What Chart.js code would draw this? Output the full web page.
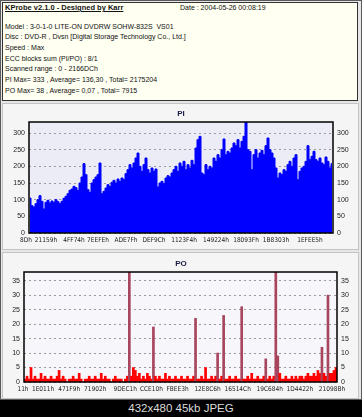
<!DOCTYPE html>
<html>
<head>
<meta charset="utf-8">
<script src="https://cdn.jsdelivr.net/npm/chart.js@4.4.0/dist/chart.umd.min.js"></script>
<style>
html, body { margin: 0; padding: 0; background: #000; width: 362px; height: 417px; overflow: hidden; }
#frame { position: absolute; left: 0; top: 0; width: 362px; height: 400px; box-sizing: border-box;
         border: 1px solid #5a5a5a; background: #e6e6e6; }
#info { position: absolute; left: 2px; top: 2px; width: 356px; height: 99px; box-sizing: border-box;
        border: 1px solid #333; background: #fffff2; font-family: "Liberation Sans", Arial, sans-serif;
        font-size: 7px; color: #111; padding-left: 2px; }
#info .ln { line-height: 10.7px; height: 10.7px; white-space: nowrap; }
#info .head { font-weight: bold; text-decoration: underline; font-size: 7.5px; }
#info .date { position: absolute; left: 177px; top: 0; }
.panel { position: absolute; left: 2px; width: 357px; box-sizing: border-box; border: 1px solid #c4c4c4; background: #f5f5f5; }
.cv { position: absolute; left: 0; }
#caption { position: absolute; left: 0; top: 400px; width: 362px; height: 17px; line-height: 17px; text-align: center;
           color: #dcdcdc; font-family: "Liberation Sans", Arial, sans-serif; font-size: 11.5px; }
</style>
</head>
<body>
<div id="frame"></div>
<div id="info">
  <div class="ln"><span class="head">KProbe v2.1.0 - Designed by Karr</span><span class="date">Date : 2004-05-26 00:08:19</span></div>
  <div class="ln" style="margin-top:8px">Model : 3-0-1-0 LITE-ON DVDRW SOHW-832S&nbsp; VS01</div>
  <div class="ln">Disc : DVD-R , Dvsn [Digital Storage Technology Co., Ltd.]</div>
  <div class="ln">Speed : Max</div>
  <div class="ln">ECC blocks sum (PI/PO) : 8/1</div>
  <div class="ln">Scanned range : 0 - 2166DCh</div>
  <div class="ln">PI Max= 333 , Average= 136,30 , Total= 2175204</div>
  <div class="ln">PO Max= 38 , Average= 0,07 , Total= 7915</div>
</div>
<div class="panel" style="top:103px;height:147px"></div>
<div class="panel" style="top:252px;height:147px"></div>
<canvas id="piChart" class="cv" width="362" height="147" style="top:103px"></canvas>
<canvas id="poChart" class="cv" width="362" height="146" style="top:253px"></canvas>
<div id="caption">432x480 45kb JPEG</div>

<script>
// --- PI (один отсчёт на ~2 px) ---
const piValues = [
  105, 82, 78, 88, 100, 112, 95, 72, 92, 98, 90, 96, 92, 100, 94, 88, 95, 104, 110, 118,
  128, 132, 140, 136, 128, 150, 168, 208, 175, 130, 122, 150, 160, 168, 175, 210, 118, 125, 135, 145,
  140, 152, 158, 150, 162, 155, 165, 160, 178, 190, 205, 195, 210, 225, 240, 200, 185, 205, 225, 190,
  180, 195, 185, 192, 138, 150, 155, 148, 165, 172, 168, 180, 190, 200, 185, 210, 200, 215, 190, 205,
  195, 218, 205, 255, 280, 290, 180, 175, 205, 190, 200, 195, 225, 215, 235, 225, 250, 282, 235, 245,
  240, 255, 270, 262, 280, 255, 275, 290, 333, 250, 245, 190, 235, 250, 225, 240, 248, 235, 262, 285,
  250, 240, 225, 195, 165, 180, 175, 190, 185, 205, 215, 200, 225, 235, 160, 185, 195, 200, 215, 262,
  220, 230, 245, 220, 215, 225, 210, 205, 228, 215, 195, 208
];
const piTickLabels = ['8Dh', '21159h', '4FF74h', '7EEFEh', 'ADE7Fh', 'DEF9Ch', '1123F4h', '149224h', '18093Fh', '1B8303h', '1EFEE5h'];
const piTickSamples = [-2, 8, 22, 34, 48, 62, 77, 93, 108, 123, 140];

// --- PO ---
const poValues = [
  1, 2, 1, 5, 1, 2, 1, 1, 3, 1, 2, 1, 1, 2, 1, 1, 2, 4, 1, 2,
  1, 0, 1, 1, 2, 1, 1, 3, 1, 0, 1, 1, 2, 1, 1, 2, 1, 1, 3, 1,
  2, 1, 1, 0, 1, 2, 1, 1, 1, 0, 1, 2, 38, 2, 5, 4, 2, 3, 1, 2,
  1, 3, 2, 1, 19, 2, 1, 2, 1, 1, 3, 1, 2, 1, 1, 2, 1, 1, 2, 1,
  1, 2, 1, 1, 2, 22, 1, 1, 2, 1, 5, 1, 1, 2, 1, 2, 10, 1, 2, 23,
  1, 1, 2, 1, 1, 2, 1, 1, 26, 1, 1, 2, 1, 3, 1, 1, 2, 1, 1, 2,
  8, 1, 2, 1, 2, 38, 9, 3, 1, 1, 2, 1, 1, 2, 1, 2, 1, 2, 2, 1,
  2, 3, 2, 2, 3, 2, 4, 3, 12, 3, 2, 30, 3, 3, 4, 5
];
const poTickLabels = ['11h', '1E011h', '471F9h', '71902h', '9DEC1h', 'CCE10h', 'FBEE3h', '12E8C6h', '16514Ch', '19C684h', '1D4422h', '21098Bh'];
const poTickSamples = [-1, 9, 22, 35, 50, 63, 76, 91, 106, 122, 137, 153];

const PI_MAX = 333;
const PO_MAX = 38;

const tickFont = { family: 'Liberation Sans', size: 7 };
const xTickFont = { family: "'Liberation Sans Narrow', 'DejaVu Sans Condensed', 'Liberation Sans'", size: 6.5 };

// фон и рамка области графика
const plotFrame = {
  id: 'plotFrame',
  beforeDraw(chart, args, opts) {
    const a = chart.chartArea, ctx = chart.ctx;
    ctx.save();
    ctx.fillStyle = opts.bg;
    ctx.fillRect(a.left, a.top, a.right - a.left, a.bottom - a.top);
    ctx.restore();
  },
  afterDatasetsDraw(chart) {
    const a = chart.chartArea, ctx = chart.ctx;
    ctx.save();
    ctx.strokeStyle = '#000';
    ctx.lineWidth = 1.5;
    ctx.strokeRect(a.left, a.top, a.right - a.left, a.bottom - a.top);
    ctx.restore();
  }
};

function makeScales(n, maxV, step, tickSamples, tickLabels, leftW, rightW) {
  const keepSteps = s => { s.ticks = s.ticks.filter(t => t.value % step === 0); };
  return {
    x: {
      type: 'linear', min: -0.5, max: n - 0.5, offset: false,
      grid: { display: false, drawTicks: false },
      border: { display: false },
      afterBuildTicks: s => { s.ticks = tickSamples.map(v => ({ value: v })); },
      afterFit: s => { s.height = 17; },
      ticks: { autoSkip: false, maxRotation: 0, padding: 3, color: '#222', font: xTickFont,
               callback: (v, i) => tickLabels[i] }
    },
    y: {
      min: 0, max: maxV, position: 'left',
      grid: { color: '#9a9a9a', drawTicks: false, lineWidth: 1 },
      border: { display: false, dash: [2, 3] },
      afterBuildTicks: keepSteps,
      afterFit: s => { s.width = leftW; },
      ticks: { stepSize: step, padding: 4, color: '#222', font: tickFont }
    },
    y2: {
      min: 0, max: maxV, position: 'right',
      grid: { display: false, drawTicks: false },
      border: { display: false },
      afterBuildTicks: keepSteps,
      afterFit: s => { s.width = rightW; },
      ticks: { stepSize: step, padding: 4, color: '#222', font: tickFont }
    }
  };
}

function titleOpts(text) {
  return {
    display: true, text: text, color: '#1a1a44',
    font: { family: 'Liberation Sans', size: 8, weight: 'bold' },
    padding: { top: 6, bottom: 3.4 }
  };
}

new Chart(document.getElementById('piChart'), {
  type: 'line',
  data: {
    datasets: [{
      data: piValues.map((v, i) => ({ x: i, y: v })),
      borderColor: '#0000ff', backgroundColor: '#0000ff',
      borderWidth: 1, pointRadius: 0, fill: 'origin', stepped: 'middle'
    }]
  },
  options: {
    responsive: false, animation: false,
    layout: { padding: 0 },
    plugins: { legend: { display: false }, tooltip: { enabled: false },
               title: titleOpts('PI'), plotFrame: { bg: '#ececf7' } },
    scales: makeScales(piValues.length, PI_MAX, 50, piTickSamples, piTickLabels, 29, 29)
  },
  plugins: [plotFrame]
});

new Chart(document.getElementById('poChart'), {
  type: 'bar',
  data: {
    datasets: [{
      data: poValues.map((v, i) => ({ x: i, y: v })),
      backgroundColor: c => (c.raw && c.raw.y > 6 ? '#a8465e' : '#ff0000'),
      borderWidth: 0, barPercentage: 1, categoryPercentage: 1
    }]
  },
  options: {
    responsive: false, animation: false,
    layout: { padding: 0 },
    plugins: { legend: { display: false }, tooltip: { enabled: false },
               title: titleOpts('PO'), plotFrame: { bg: '#f6f6fb' } },
    scales: makeScales(poValues.length, PO_MAX, 5, poTickSamples, poTickLabels, 24, 25)
  },
  plugins: [plotFrame]
});
</script>
</body>
</html>
